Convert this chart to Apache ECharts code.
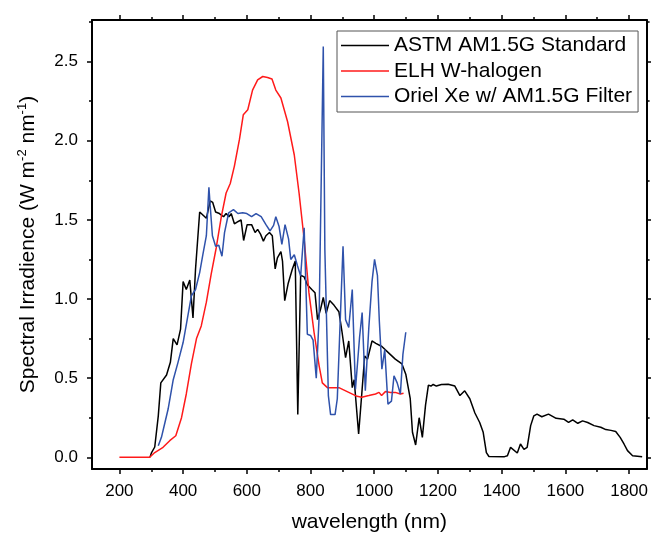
<!DOCTYPE html>
<html>
<head>
<meta charset="utf-8">
<script src="https://cdn.jsdelivr.net/npm/echarts@6/dist/echarts.min.js"></script>
<style>
html,body{margin:0;padding:0;background:#fff;}
#chart{width:651px;height:538px;}
</style>
</head>
<body>
<div id="chart"></div>
<script>
// ---- data ----
const seriesNames = ['ASTM AM1.5G Standard', 'ELH W-halogen', 'Oriel Xe w/ AM1.5G Filter'];

const astmX = [296,301,311,322,330,348,360,369,381,392,400,410,421,431,439,452,473,485,493,502,514,527,535,544,551,561,573,582,590,601,615,626,634,643,652,660,671,680,689,696,707,712,719,730,743,752,760,769,780,790,804,814,822,832,840,849,860,874,889,899,910,920,931,937,951,962,970,979,993,1005,1024,1045,1066,1087,1099,1113,1120,1130,1141,1151,1161,1170,1178,1185,1195,1211,1232,1253,1269,1284,1300,1316,1331,1342,1352,1360,1409,1418,1428,1449,1459,1470,1480,1491,1501,1511,1526,1547,1571,1595,1610,1623,1639,1654,1670,1690,1711,1727,1743,1758,1772,1784,1795,1811,1841];
const astmY = [0.0,0.03,0.065,0.26,0.47,0.52,0.60,0.75,0.71,0.81,1.11,1.06,1.12,0.88,1.19,1.55,1.51,1.62,1.61,1.55,1.54,1.52,1.54,1.52,1.54,1.475,1.49,1.50,1.37,1.47,1.47,1.42,1.44,1.41,1.366,1.40,1.42,1.40,1.19,1.26,1.30,1.24,0.99,1.10,1.19,1.24,0.27,1.15,1.14,1.09,1.06,1.04,0.87,0.94,1.01,0.91,0.99,0.96,0.92,0.79,0.63,0.735,0.44,0.49,0.147,0.43,0.64,0.62,0.735,0.72,0.70,0.66,0.62,0.59,0.525,0.37,0.158,0.078,0.25,0.126,0.33,0.456,0.45,0.46,0.45,0.46,0.462,0.45,0.39,0.42,0.37,0.28,0.22,0.158,0.03,0.005,0.004,0.01,0.063,0.027,0.084,0.05,0.063,0.2,0.262,0.273,0.256,0.273,0.246,0.241,0.22,0.237,0.215,0.23,0.22,0.2,0.19,0.175,0.17,0.163,0.126,0.084,0.042,0.01,0.004];

const elhX = [200,295,311,337,358,377,395,410,426,442,457,473,488,504,520,535,548,561,577,589,603,618,634,650,665,679,691,707,728,749,764,780,795,811,827,837,853,889,920,946,961,983,1004,1015,1023,1035,1051,1066,1082,1092];
const elhY = [0,0,0.03,0.063,0.105,0.136,0.25,0.40,0.59,0.75,0.83,0.98,1.156,1.324,1.52,1.67,1.73,1.84,2.01,2.165,2.196,2.32,2.385,2.406,2.40,2.39,2.32,2.27,2.12,1.91,1.67,1.376,1.04,0.79,0.578,0.47,0.44,0.44,0.41,0.385,0.38,0.39,0.40,0.41,0.39,0.415,0.41,0.41,0.40,0.405];

const orielX = [322,332,343,353,369,384,400,412,426,439,452,462,473,481,485,492,502,512,522,530,543,558,572,587,600,615,629,645,660,673,684,691,701,710,720,731,738,749,759,769,780,790,800,808,818,827,840,845,856,863,877,884,891,902,910,920,931,941,954,962,972,983,993,1001,1010,1016,1024,1033,1043,1054,1062,1072,1082,1090,1099];
const orielY = [0.073,0.126,0.22,0.305,0.49,0.60,0.725,0.86,1.02,1.06,1.167,1.28,1.40,1.706,1.59,1.40,1.334,1.34,1.27,1.42,1.545,1.565,1.54,1.545,1.54,1.52,1.54,1.52,1.47,1.43,1.465,1.52,1.46,1.345,1.47,1.38,1.25,1.28,1.21,1.145,1.45,0.777,0.77,0.74,0.50,0.89,2.595,1.31,0.39,0.27,0.27,0.37,0.746,1.334,0.87,0.82,1.06,0.43,0.76,0.914,0.42,0.82,1.11,1.25,1.15,0.86,0.557,0.68,0.336,0.355,0.515,0.47,0.40,0.65,0.79];

const xMajorTicks = [200,400,600,800,1000,1200,1400,1600,1800];
const xMinorTicks = [300,500,700,900,1100,1300,1500,1700];
const yMajorTicks = [0,0.5,1.0,1.5,2.0,2.5];
const yMinorTicks = [0.25,0.75,1.25,1.75,2.25,2.75];

const xTitle = 'wavelength (nm)';
const yTitle = 'Spectral Irradience (W m{sup|-2} nm{sup|-1})';

// ---- chart ----
const FONT = '"Liberation Sans", Arial, Helvetica, sans-serif';
const X_MIN = 114, X_MAX = 1855, Y_MIN = -0.074, Y_MAX = 2.763;
const zip = (xs, ys) => xs.map((x, i) => [x, ys[i]]);

function xAxisDef(position, ticks, len, withLabels, withLine) {
  return {
    type: 'value', position: position, min: X_MIN, max: X_MAX,
    splitLine: {show: false},
    axisLine: {show: withLine, onZero: false, lineStyle: {color: '#000', width: 2}},
    axisTick: {show: true, inside: false, length: len, customValues: ticks, lineStyle: {color: '#000', width: 1.5}},
    axisLabel: withLabels ? {show: true, customValues: ticks, margin: 14, fontSize: 17, color: '#000', fontFamily: FONT,
      formatter: v => String(Math.round(v))} : {show: false},
    name: withLabels ? xTitle : '',
    nameLocation: 'middle', nameGap: 43,
    nameTextStyle: {fontSize: 21, color: '#000', fontFamily: FONT}
  };
}
function yAxisDef(position, ticks, len, withLabels, withLine) {
  return {
    type: 'value', position: position, min: Y_MIN, max: Y_MAX,
    splitLine: {show: false},
    axisLine: {show: withLine, onZero: false, lineStyle: {color: '#000', width: 2}},
    axisTick: {show: true, inside: false, length: len, customValues: ticks, lineStyle: {color: '#000', width: 1.5}},
    axisLabel: withLabels ? {show: true, customValues: ticks, margin: 14, fontSize: 17, color: '#000', fontFamily: FONT,
      formatter: v => Number(v).toFixed(1)} : {show: false},
    name: withLabels ? yTitle : '',
    nameLocation: 'middle', nameGap: 52,
    nameTextStyle: {fontSize: 21, color: '#000', fontFamily: FONT,
      rich: {sup: {fontSize: 13, color: '#000', fontFamily: FONT, verticalAlign: 'top', lineHeight: 24}}}
  };
}

const chart = echarts.init(document.getElementById('chart'), null, {renderer: 'canvas'});
chart.setOption({
  animation: false,
  backgroundColor: '#fff',
  grid: {left: 92, right: 2, top: 20, bottom: 68, containLabel: false},
  legend: {
    orient: 'vertical', left: 337, top: 31,
    data: seriesNames,
    icon: 'rect',
    itemWidth: 48, itemHeight: 1.6, itemGap: 4.5,
    padding: [4, 6, 5, 4],
    borderColor: '#555', borderWidth: 1, backgroundColor: '#fff',
    textStyle: {fontSize: 21, color: '#000', fontFamily: FONT, lineHeight: 21}
  },
  xAxis: [
    xAxisDef('bottom', xMajorTicks, 5, true, true),
    xAxisDef('bottom', xMinorTicks, 3, false, false),
    xAxisDef('top', xMajorTicks, 5, false, true),
    xAxisDef('top', xMinorTicks, 3, false, false)
  ],
  yAxis: [
    yAxisDef('left', yMajorTicks, 5, true, true),
    yAxisDef('left', yMinorTicks, 3, false, false),
    yAxisDef('right', yMajorTicks, 5, false, true),
    yAxisDef('right', yMinorTicks, 3, false, false)
  ],
  series: [
    {name: seriesNames[0], type: 'line', data: zip(astmX, astmY), symbol: 'none', showSymbol: false,
      lineStyle: {color: '#000', width: 1.5}, itemStyle: {color: '#000'}},
    {name: seriesNames[1], type: 'line', data: zip(elhX, elhY), symbol: 'none', showSymbol: false,
      lineStyle: {color: '#ff1a1a', width: 1.5}, itemStyle: {color: '#ff1a1a'}},
    {name: seriesNames[2], type: 'line', data: zip(orielX, orielY), symbol: 'none', showSymbol: false,
      lineStyle: {color: '#2f52ab', width: 1.5}, itemStyle: {color: '#2f52ab'}}
  ]
});
</script>
</body>
</html>
